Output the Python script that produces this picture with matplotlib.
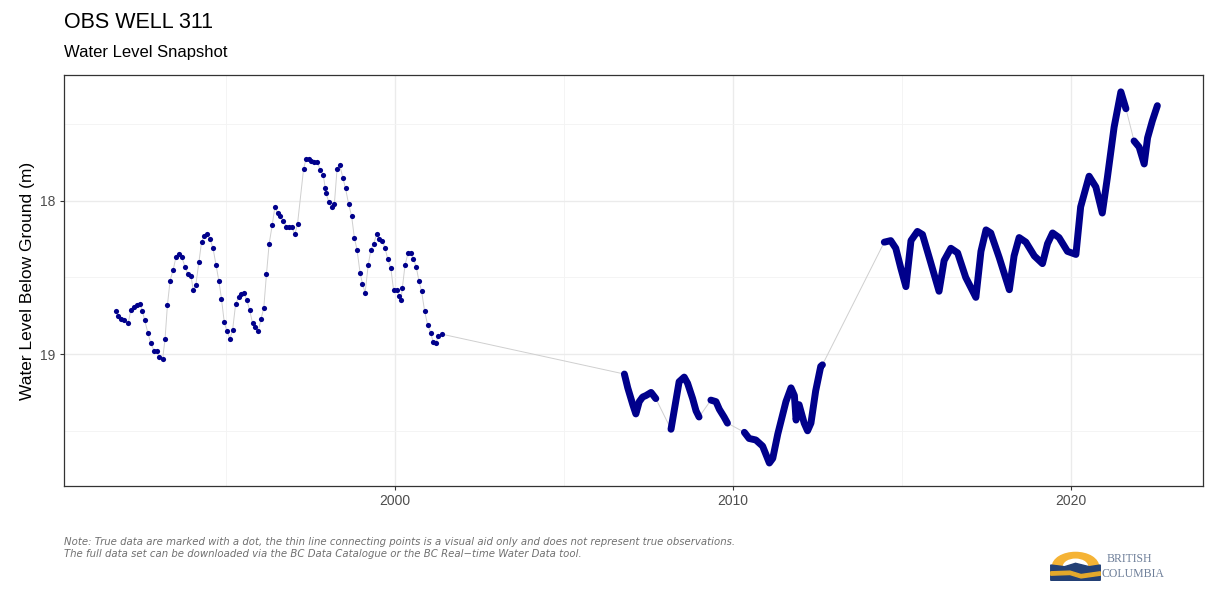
import matplotlib
matplotlib.use("Agg")
import matplotlib.pyplot as plt
from matplotlib.patches import Wedge, Polygon
import numpy as np

# ---------------- data ----------------
# Period 1: sparse observations (dots)
yr_p1 = [1991.74, 1991.79, 1991.88, 1991.98, 1992.10, 1992.18, 1992.28, 1992.35, 1992.45, 1992.52,
         1992.59, 1992.68, 1992.77, 1992.87, 1992.95, 1993.02, 1993.12, 1993.19, 1993.26, 1993.34,
         1993.43, 1993.51, 1993.61, 1993.69, 1993.78, 1993.87, 1993.96, 1994.02, 1994.10, 1994.19,
         1994.27, 1994.35, 1994.43, 1994.52, 1994.61, 1994.70, 1994.78, 1994.86, 1994.94, 1995.02,
         1995.11, 1995.19, 1995.28, 1995.37, 1995.44, 1995.53, 1995.61, 1995.69, 1995.78, 1995.86,
         1995.95, 1996.03, 1996.11, 1996.19, 1996.27, 1996.36, 1996.44, 1996.52, 1996.60, 1996.69,
         1996.78, 1996.86, 1996.94, 1997.03, 1997.11, 1997.29, 1997.36, 1997.44, 1997.52, 1997.61,
         1997.70, 1997.78, 1997.87, 1997.93, 1997.95, 1998.04, 1998.12, 1998.20, 1998.28, 1998.36,
         1998.45, 1998.53, 1998.62, 1998.71, 1998.79, 1998.87, 1998.96, 1999.03, 1999.11, 1999.20,
         1999.28, 1999.36, 1999.45, 1999.53, 1999.62, 1999.70, 1999.78, 1999.87, 1999.95, 2000.04,
         2000.12, 2000.17, 2000.21, 2000.29, 2000.38, 2000.46, 2000.54, 2000.62, 2000.70, 2000.78,
         2000.87, 2000.96, 2001.05, 2001.12, 2001.20, 2001.28, 2001.38]
lvl_p1 = [18.72, 18.75, 18.77, 18.78, 18.80, 18.71, 18.69, 18.68, 18.67, 18.72,
          18.78, 18.86, 18.93, 18.98, 18.98, 19.02, 19.03, 18.90, 18.68, 18.52,
          18.45, 18.37, 18.35, 18.37, 18.43, 18.48, 18.49, 18.58, 18.55, 18.40,
          18.27, 18.23, 18.22, 18.25, 18.31, 18.42, 18.52, 18.64, 18.79, 18.85,
          18.90, 18.84, 18.67, 18.63, 18.61, 18.60, 18.65, 18.71, 18.80, 18.82,
          18.85, 18.77, 18.70, 18.48, 18.28, 18.16, 18.04, 18.08, 18.10, 18.13,
          18.17, 18.17, 18.17, 18.22, 18.15, 17.79, 17.73, 17.73, 17.74, 17.75,
          17.75, 17.80, 17.83, 17.92, 17.95, 18.01, 18.04, 18.02, 17.79, 17.77,
          17.85, 17.92, 18.02, 18.10, 18.24, 18.32, 18.47, 18.54, 18.60, 18.42,
          18.32, 18.28, 18.22, 18.25, 18.26, 18.31, 18.38, 18.44, 18.58, 18.58,
          18.62, 18.65, 18.57, 18.42, 18.34, 18.34, 18.38, 18.43, 18.52, 18.59,
          18.72, 18.81, 18.86, 18.92, 18.93, 18.88, 18.87]

# Period 2: dense record 2006-2012 (pieces separated by gaps)
yr_p2 = [[2006.78, 2006.88, 2007.03, 2007.12, 2007.22, 2007.32, 2007.42, 2007.57, 2007.71],
         [2008.16, 2008.40, 2008.55, 2008.65, 2008.80, 2008.90, 2008.99],
         [2009.34, 2009.49, 2009.59, 2009.73, 2009.83],
         [2010.33, 2010.47, 2010.67, 2010.87, 2011.07, 2011.17, 2011.32, 2011.56, 2011.71,
          2011.81, 2011.86, 2011.95, 2012.10, 2012.20, 2012.30, 2012.44, 2012.59, 2012.64]]
lvl_p2 = [[19.13, 19.22, 19.33, 19.39, 19.31, 19.28, 19.27, 19.25, 19.29],
          [19.49, 19.18, 19.15, 19.19, 19.29, 19.37, 19.41],
          [19.30, 19.31, 19.36, 19.41, 19.45],
          [19.51, 19.55, 19.56, 19.60, 19.71, 19.68, 19.52, 19.31, 19.22,
           19.27, 19.43, 19.33, 19.45, 19.50, 19.45, 19.24, 19.08, 19.07]]

# Period 3: dense record 2014-2022
yr_p3 = [[2014.47, 2014.66, 2014.81, 2014.96, 2015.11, 2015.26, 2015.45, 2015.60, 2015.80, 2016.09,
          2016.24, 2016.44, 2016.64, 2016.88, 2017.18, 2017.33, 2017.48, 2017.62, 2017.87, 2018.17,
          2018.31, 2018.46, 2018.66, 2018.91, 2019.15, 2019.30, 2019.45, 2019.64, 2019.89, 2020.14,
          2020.28, 2020.53, 2020.73, 2020.92, 2021.07, 2021.27, 2021.47, 2021.62],
         [2021.86, 2022.01, 2022.16, 2022.26, 2022.40, 2022.55]]
lvl_p3 = [[18.27, 18.26, 18.31, 18.44, 18.56, 18.26, 18.20, 18.22, 18.37, 18.59,
           18.39, 18.31, 18.34, 18.50, 18.63, 18.33, 18.19, 18.21, 18.37, 18.58,
           18.36, 18.24, 18.27, 18.36, 18.41, 18.28, 18.21, 18.24, 18.33, 18.35,
           18.04, 17.84, 17.91, 18.08, 17.85, 17.52, 17.29, 17.40],
          [17.61, 17.65, 17.76, 17.59, 17.48, 17.38]]

x_breaks = [2000, 2010, 2020]
y_breaks = [18, 19]

title = "OBS WELL 311"
subtitle = "Water Level Snapshot"
ylabel = "Water Level Below Ground (m)"
caption = ("Note: True data are marked with a dot, the thin line connecting points is a visual aid only and does not represent true observations.\n"
           "The full data set can be downloaded via the BC Data Catalogue or the BC Real\u2212time Water Data tool.")

# ---------------- plot ----------------
plt.rcParams['font.family'] = ['Liberation Sans', 'DejaVu Sans']
W, H = 1213, 606
fig = plt.figure(figsize=(W / 100, H / 100), dpi=100)
ax = fig.add_axes([64 / W, 1 - 486 / H, (1203 - 64) / W, (486 - 75) / H])

navy = '#00008B'

# thin connecting line through all observations
all_x = list(yr_p1)
all_y = list(lvl_p1)
for xs, ys in zip(yr_p2 + yr_p3, lvl_p2 + lvl_p3):
    all_x += xs
    all_y += ys
ax.plot(all_x, all_y, color='#CFCFCF', lw=0.7, zorder=2)

# dots for sparse period
ax.scatter(yr_p1, lvl_p1, s=14, color=navy, zorder=3, linewidths=0)

# dense periods drawn as thick lines of dots
for xs, ys in zip(yr_p2 + yr_p3, lvl_p2 + lvl_p3):
    ax.plot(xs, ys, color=navy, lw=5.0, solid_capstyle='round', solid_joinstyle='round', zorder=3)

ax.set_xlim(1990.2, 2023.9)
ax.set_ylim(19.86, 17.18)
ax.set_xticks(x_breaks)
ax.set_xticklabels([str(v) for v in x_breaks])
ax.set_yticks(y_breaks)
ax.set_yticklabels([str(v) for v in y_breaks])
ax.set_xticks([1995, 2005, 2015], minor=True)
ax.set_yticks([17.5, 18.5, 19.5], minor=True)
ax.grid(which='major', color='#EBEBEB', lw=1.0, zorder=0)
ax.grid(which='minor', color='#F3F3F3', lw=0.6, zorder=0)
ax.tick_params(axis='both', which='major', length=3, width=0.8, color='#333333',
               labelsize=10, labelcolor='#4D4D4D', pad=3)
ax.tick_params(axis='both', which='minor', length=0)
for s in ax.spines.values():
    s.set_color('#333333')
    s.set_linewidth(0.9)
ax.set_axisbelow(True)
ax.set_ylabel(ylabel, fontsize=12.5, color='black', labelpad=4)

fig.text(64 / W, 1 - 22 / H, title, fontsize=15.5, va='center', ha='left', color='black')
fig.text(64 / W, 1 - 53 / H, subtitle, fontsize=12, va='center', ha='left', color='black')
fig.text(64 / W, 1 - 548 / H, caption, fontsize=7.3, style='italic', color='#707070',
         family='DejaVu Sans', va='center', ha='left', linespacing=1.25)

# BC logo approximation
lax = fig.add_axes([1048 / W, 1 - 582 / H, 55 / W, 34 / H])
lax.set_xlim(0, 1)
lax.set_ylim(0, 1)
lax.axis('off')
lax.add_patch(Wedge((0.5, 0.45), 0.42, 0, 180, color='#F5B335'))
lax.add_patch(Wedge((0.5, 0.45), 0.22, 0, 180, color='#FFFFFF'))
lax.add_patch(Polygon([[0.05, 0.05], [0.05, 0.5], [0.3, 0.45], [0.5, 0.55], [0.75, 0.45],
                       [0.95, 0.5], [0.95, 0.05]], closed=True, color='#234075'))
lax.add_patch(Polygon([[0.05, 0.3], [0.4, 0.32], [0.6, 0.22], [0.95, 0.3], [0.95, 0.2],
                       [0.6, 0.12], [0.4, 0.22], [0.05, 0.2]], closed=True, color='#E3A82B'))
fig.text(1107 / W, 1 - 559 / H, "BRITISH", fontsize=8.5, family='Liberation Serif',
         color='#6E7F99', va='center', ha='left')
fig.text(1101 / W, 1 - 574 / H, "COLUMBIA", fontsize=8.5, family='Liberation Serif',
         color='#6E7F99', va='center', ha='left')

fig.savefig('out.png', dpi=100, facecolor='white')
